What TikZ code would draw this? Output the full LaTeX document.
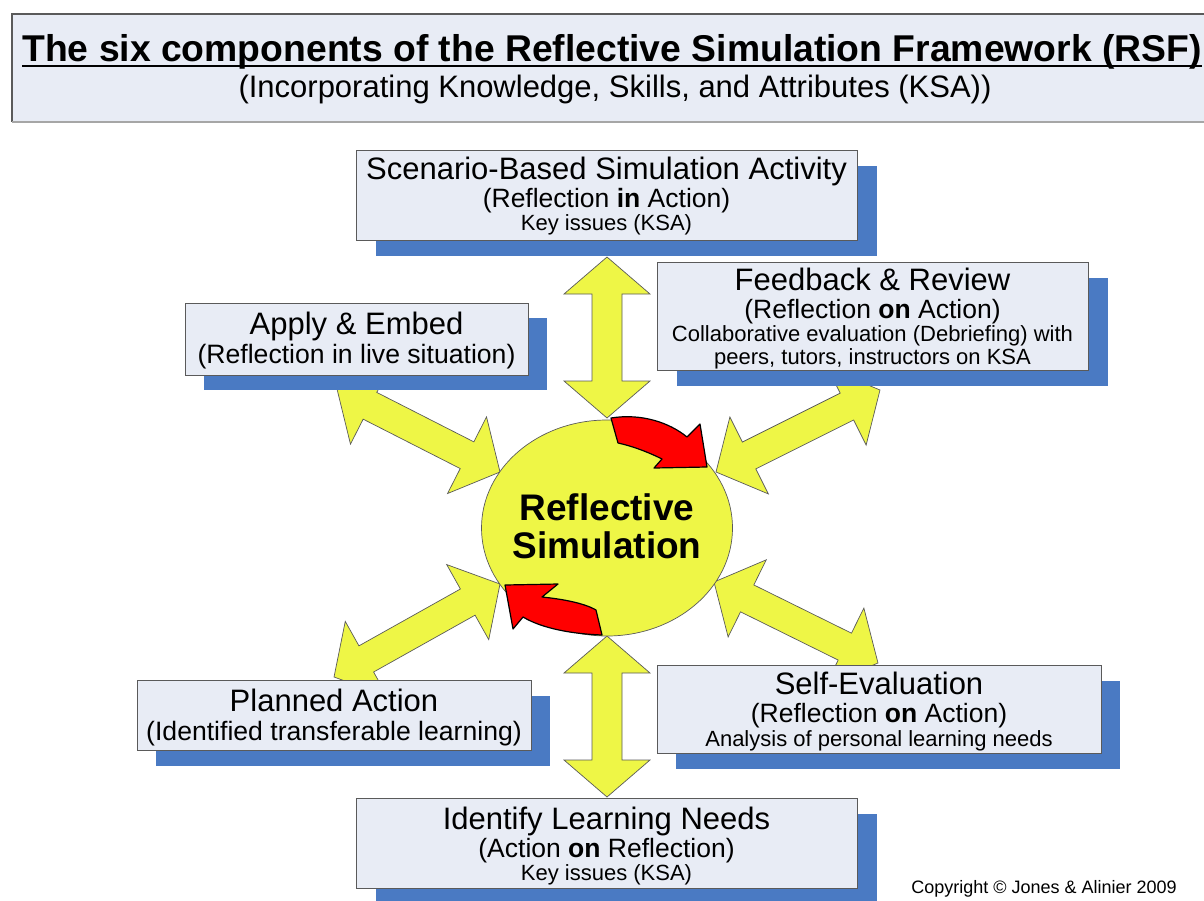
\documentclass[tikz,border=0pt]{standalone}
\usepackage{fontspec}
\setmainfont{Liberation Sans}
\usetikzlibrary{shapes.geometric,calc}
\definecolor{boxfill}{HTML}{E8ECF5}
\definecolor{shadowblue}{HTML}{4A7AC3}
\definecolor{ylw}{HTML}{EEF646}
\definecolor{rd}{HTML}{FF0000}
\definecolor{edge}{HTML}{5A5A5A}
\newcommand\fsz[1]{\fontsize{#1}{#1}\selectfont}
\tikzset{
  box/.style={draw=edge, line width=0.9pt, fill=boxfill, rectangle, inner sep=0pt},
  shadowbox/.style={fill=shadowblue, draw=none, rectangle, inner sep=0pt},
  txt/.style={anchor=base, inner sep=0pt},
  fat/.style={fill=ylw, draw=edge, line width=0.7pt, line join=miter},
  redarrow/.style={fill=rd, draw=black, line width=1.2pt, line join=round},
}
\newcommand\fatarrow[2]{%
  \pgfpointanchor{#1}{center}\pgfgetlastxy{\fax}{\fay}%
  \pgfpointanchor{#2}{center}\pgfgetlastxy{\fbx}{\fby}%
  \pgfmathsetmacro\fang{atan2(\fby-\fay,\fbx-\fax)}%
  \pgfmathsetmacro\flen{veclen(\fbx-\fax,\fby-\fay)}%
  \begin{scope}[shift={(#1)}, rotate=\fang, x=1pt, y=1pt]
    \draw[fat] (0,0) -- (37,43) -- (37,15) -- (\flen-37,15) -- (\flen-37,43)
      -- (\flen,0) -- (\flen-37,-43) -- (\flen-37,-15) -- (37,-15) -- (37,-43) -- cycle;
  \end{scope}}
\begin{document}
\begin{tikzpicture}[x=1pt,y=-1pt]
\useasboundingbox (0,0) rectangle (1204,900);
% header
\fill[boxfill] (12,14) rectangle (1215,122);
\draw[edge, line width=1.2pt] (1215,14) -- (12,14) -- (12,122);
\draw[gray!70, line width=1.2pt] (12,122) -- (1215,122);
\node[txt, font=\fsz{37.3}\bfseries] (title) at (612,61) {The six components of the Reflective Simulation Framework (RSF)};
\draw[line width=2.5pt] ([yshift=-5pt]title.base west) -- ([yshift=-5pt]title.base east);
\node[txt, font=\fsz{31}] (subtitle) at (615,97) {(Incorporating Knowledge, Skills, and Attributes (KSA))};

% arrow end points
\coordinate (tA) at (607,257);  \coordinate (tB) at (607,418);
\coordinate (bA) at (607,636);  \coordinate (bB) at (607,797);
\coordinate (ulA) at (500,472); \coordinate (ulB) at (337,389);
\coordinate (urA) at (716,472); \coordinate (urB) at (880,390);
\coordinate (llA) at (500,584); \coordinate (llB) at (334,677);
\coordinate (lrA) at (714,582); \coordinate (lrB) at (878,663);
\fatarrow{tA}{tB}
\fatarrow{bA}{bB}
\fatarrow{ulA}{ulB}
\fatarrow{urA}{urB}
\fatarrow{llA}{llB}
\fatarrow{lrA}{lrB}

% central circle
\node[ellipse, minimum width=251pt, minimum height=216pt, fill=ylw, draw=edge, line width=0.7pt, inner sep=0pt] (rs) at (607,528) {};
\node[txt, font=\fsz{37}\bfseries] (rs1) at (607,520) {Reflective};
\node[txt, font=\fsz{37}\bfseries] (rs2) at (607,558) {Simulation};

% red cycle arrows
\draw[redarrow] (611,418) .. controls (642,413) and (670,423) .. (687,437) -- (700,424) -- (707,467) -- (654,468) -- (662,459) .. controls (648,452) and (632,446) .. (618,443) -- cycle;
\draw[redarrow] (505,585) -- (558,584) -- (542,597) .. controls (562,599) and (584,603) .. (596,610) -- (602,635) .. controls (574,634) and (543,629) .. (523,617) -- (513,629) -- cycle;

% Scenario box
\node[shadowbox, minimum width=501pt, minimum height=90pt] (scenS) at (626.5,211) {};
\node[box, minimum width=501pt, minimum height=90pt] (scen) at (606.5,195) {};
\node[txt, font=\fsz{31}] (scen1) at (606.5,179) {Scenario-Based Simulation Activity};
\node[txt, font=\fsz{26.5}] (scen2) at (606.5,207.5) {(Reflection \textbf{in} Action)};
\node[txt, font=\fsz{22}] (scen3) at (606.5,230) {Key issues (KSA)};

% Apply box
\node[shadowbox, minimum width=343pt, minimum height=72pt] (appS) at (375.5,354) {};
\node[box, minimum width=343pt, minimum height=72pt] (app) at (356.5,339) {};
\node[txt, font=\fsz{31}] (app1) at (356.5,334) {Apply \& Embed};
\node[txt, font=\fsz{26.6}] (app2) at (356.5,363) {(Reflection in live situation)};

% Feedback box
\node[shadowbox, minimum width=431pt, minimum height=108pt] (fbS) at (892.5,332) {};
\node[box, minimum width=431pt, minimum height=108pt] (fb) at (872.5,316) {};
\node[txt, font=\fsz{31}] (fb1) at (872.5,290) {Feedback \& Review};
\node[txt, font=\fsz{26.5}] (fb2) at (872.5,318.5) {(Reflection \textbf{on} Action)};
\node[txt, font=\fsz{22}] (fb3) at (872.5,341) {Collaborative evaluation (Debriefing) with};
\node[txt, font=\fsz{22}] (fb4) at (872.5,364) {peers, tutors, instructors on KSA};

% Planned box
\node[shadowbox, minimum width=394pt, minimum height=70pt] (plS) at (353,731) {};
\node[box, minimum width=394pt, minimum height=70pt] (pl) at (334,715) {};
\node[txt, font=\fsz{31}] (pl1) at (334,711) {Planned Action};
\node[txt, font=\fsz{26.6}] (pl2) at (334,740) {(Identified transferable learning)};

% Self-evaluation box
\node[shadowbox, minimum width=444pt, minimum height=88pt] (seS) at (898,725) {};
\node[box, minimum width=444pt, minimum height=88pt] (se) at (879,709) {};
\node[txt, font=\fsz{31}] (se1) at (879,694) {Self-Evaluation};
\node[txt, font=\fsz{26.5}] (se2) at (879,722.5) {(Reflection \textbf{on} Action)};
\node[txt, font=\fsz{22}] (se3) at (879,746) {Analysis of personal learning needs};

% Identify box
\node[shadowbox, minimum width=501pt, minimum height=90pt] (idS) at (626.5,859) {};
\node[box, minimum width=501pt, minimum height=90pt] (id) at (606.5,843) {};
\node[txt, font=\fsz{31}] (id1) at (606.5,829) {Identify Learning Needs};
\node[txt, font=\fsz{26.5}] (id2) at (606.5,857.5) {(Action \textbf{on} Reflection)};
\node[txt, font=\fsz{22}] (id3) at (606.5,880) {Key issues (KSA)};

\node[txt, font=\fsz{18}] (copy) at (1044,893) {Copyright © Jones \& Alinier 2009};
\end{tikzpicture}
\end{document}
